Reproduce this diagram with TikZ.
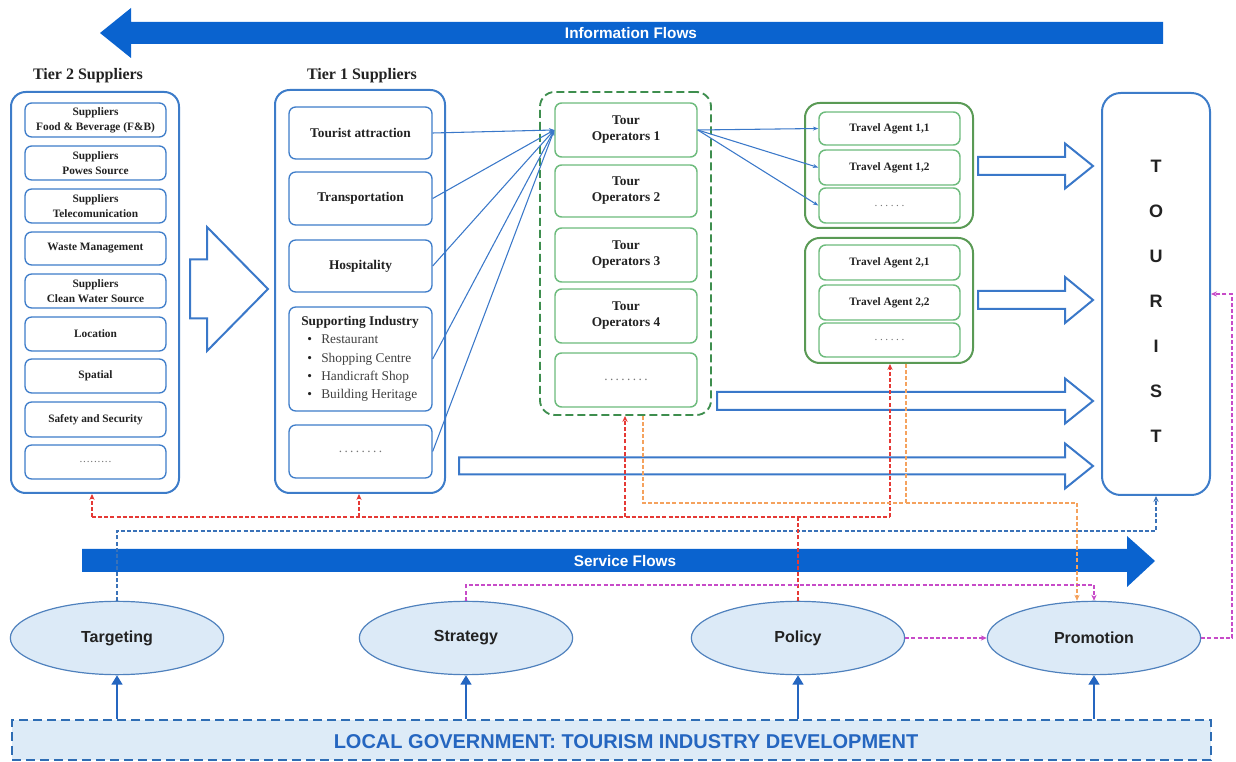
\documentclass[tikz,border=0pt]{standalone}
\usepackage{fontspec}
\setmainfont{Liberation Serif}
\setsansfont{Liberation Sans}
\usetikzlibrary{arrows.meta,calc,shapes.geometric}
\definecolor{flowblue}{HTML}{0A63CF}
\definecolor{boxblue}{HTML}{3D7CC9}
\definecolor{linkblue}{HTML}{3A78C9}
\definecolor{ginner}{HTML}{6DBB7C}
\definecolor{gdash}{HTML}{3E8E4E}
\definecolor{gouter}{HTML}{5A9A55}
\definecolor{ellfill}{HTML}{DCEAF7}
\definecolor{ellborder}{HTML}{4F81BD}
\definecolor{lgfill}{HTML}{DDEBF7}
\definecolor{lgborder}{HTML}{2E6DB4}
\definecolor{lgtext}{HTML}{2566C0}
\definecolor{redd}{HTML}{E53935}
\definecolor{orangd}{HTML}{F5A25D}
\definecolor{magd}{HTML}{C74BC8}
\definecolor{blued}{HTML}{3A72B8}
\definecolor{dotgray}{HTML}{777777}
\definecolor{txt}{HTML}{222222}
\newcommand\spdots[2]{{\normalfont\color{dotgray}\foreach \i in {1,...,#1}{.\hspace{#2}}\hspace{-#2}}}
\newcommand\myblockarrow[6]{%
  \draw[hollow] (#1,{#4-#5}) -- (#2,{#4-#5}) -- (#2,{#4-#6}) -- (#3,#4) -- (#2,{#4+#6}) -- (#2,{#4+#5}) -- (#1,{#4+#5}) -- cycle;}
\begin{document}
\begin{tikzpicture}[x=0.75pt,y=-0.75pt,
  every node/.style={inner sep=0pt, text=txt},
  corners/.style args={#1,#2,#3,#4}{minimum width={(#3-#1)*0.75pt}, minimum height={(#4-#2)*0.75pt},
     at={({(#1+#3)/2},{(#2+#4)/2})}},
  outerbox/.style={draw=boxblue, line width=1.5pt, rounded corners=11pt},
  bbox/.style={draw=boxblue, line width=1pt, rounded corners=5pt, fill=white, align=center,
     font=\bfseries\fontsize{10}{12}\selectfont},
  t2box/.style={bbox, font=\bfseries\fontsize{8.5}{11}\selectfont},
  gbox/.style={draw=ginner, line width=1.1pt, rounded corners=5pt, fill=white, align=center,
     font=\bfseries\fontsize{10}{12}\selectfont},
  tabox/.style={gbox, font=\bfseries\fontsize{8.5}{10}\selectfont},
  godash/.style={draw=gdash, line width=1.4pt, rounded corners=11pt, dash pattern=on 6pt off 3pt},
  gosolid/.style={draw=gouter, line width=1.5pt, rounded corners=11pt},
  ell/.style={ellipse, draw=ellborder, fill=ellfill, line width=0.9pt, minimum width=160pt,
     minimum height=55pt, font=\sffamily\bfseries\fontsize{12}{14}\selectfont},
  hollow/.style={draw=linkblue, line width=1.5pt, fill=white, line join=miter},
  link/.style={draw=linkblue, line width=0.8pt, -{Stealth[length=4pt,width=3pt]}},
  dsh/.style={line width=1.1pt, dash pattern=on 3pt off 1.6pt, -{Stealth[length=4.5pt,width=4pt]}},
  dshnt/.style={line width=1.1pt, dash pattern=on 3pt off 1.6pt},
  upar/.style={draw=lgtext, line width=2.2pt, -{Triangle[length=7pt,width=8pt]}},
  flowtxt/.style={text=white, font=\sffamily\bfseries\fontsize{11.5}{13}\selectfont}
  ]
\useasboundingbox (0,0) rectangle (1236,762);

% ---------- flow arrows ----------
\fill[flowblue] (1163,22) -- (131,22) -- (131,8) -- (100,33) -- (131,58) -- (131,44) -- (1163,44) -- cycle;
\node[flowtxt] (infoflow) at (631,33) {Information Flows};
\fill[flowblue] (82,549) -- (1127,549) -- (1127,536) -- (1155,561) -- (1127,587) -- (1127,572) -- (82,572) -- cycle;
\node[flowtxt] (servflow) at (625,561) {Service Flows};

% ---------- Tier 2 ----------
\node[font=\bfseries\fontsize{12}{14}\selectfont] (t2lab) at (88,76) {Tier 2 Suppliers};
\node[outerbox, corners={11,92,179,493}] (t2) {};
\node[t2box, corners={25,103,166,137}] (s1) {Suppliers\\Food \& Beverage (F\&B)};
\node[t2box, corners={25,146,166,180}] (s2) {Suppliers\\Powes Source};
\node[t2box, corners={25,189,166,223}] (s3) {Suppliers\\Telecomunication};
\node[t2box, corners={25,232,166,265}] (s4) {Waste Management};
\node[t2box, corners={25,274,166,308}] (s5) {Suppliers\\Clean Water Source};
\node[t2box, corners={25,317,166,351}] (s6) {Location};
\node[t2box, corners={25,359,166,393}] (s7) {Spatial};
\node[t2box, corners={25,402,166,437}] (s8) {Safety and Security};
\node[t2box, corners={25,445,166,479}] (s9) {\spdots{9}{0.6pt}};

\myblockarrow{190}{207}{268}{289}{29.5}{62}

% ---------- Tier 1 ----------
\node[font=\bfseries\fontsize{12}{14}\selectfont] (t1lab) at (362,76) {Tier 1 Suppliers};
\node[outerbox, corners={275,90,445,493}] (t1) {};
\node[bbox, corners={289,107,432,159}] (t1a) {Tourist attraction};
\node[bbox, corners={289,172,432,225}] (t1b) {Transportation};
\node[bbox, corners={289,240,432,292}] (t1c) {Hospitality};
\node[bbox, corners={289,307,432,411}] (t1d) {};
\node[align=left, font=\fontsize{10}{13.7}\selectfont] (t1dtext) at (360,359)
  {\textbf{Supporting Industry}\\
   \hspace{0.45em}{\color{txt}\textbullet}\hspace{0.7em}{\color{darkgray}Restaurant}\\
   \hspace{0.45em}{\color{txt}\textbullet}\hspace{0.7em}{\color{darkgray}Shopping Centre}\\
   \hspace{0.45em}{\color{txt}\textbullet}\hspace{0.7em}{\color{darkgray}Handicraft Shop}\\
   \hspace{0.45em}{\color{txt}\textbullet}\hspace{0.7em}{\color{darkgray}Building Heritage}};
\node[bbox, corners={289,425,432,478}] (t1e) {\spdots{8}{1.8pt}};

% ---------- Tour operators ----------
\node[godash, corners={540,92,711,415}] (tog) {};
\node[gbox, corners={555,103,697,157}] (to1) {Tour\\Operators 1};
\node[gbox, corners={555,165,697,217}] (to2) {Tour\\Operators 2};
\node[gbox, corners={555,228,697,282}] (to3) {Tour\\Operators 3};
\node[gbox, corners={555,289,697,343}] (to4) {Tour\\Operators 4};
\node[gbox, corners={555,353,697,407}] (to5) {\spdots{8}{1.8pt}};

% ---------- Travel agents ----------
\node[gosolid, corners={805,103,973,228}] (tag1) {};
\node[tabox, corners={819,112,960,145}] (ta11) {Travel Agent 1,1};
\node[tabox, corners={819,150,960,185}] (ta12) {Travel Agent 1,2};
\node[tabox, corners={819,188,960,223}] (ta13) {\spdots{6}{1.9pt}};
\node[gosolid, corners={805,238,973,363}] (tag2) {};
\node[tabox, corners={819,245,960,280}] (ta21) {Travel Agent 2,1};
\node[tabox, corners={819,285,960,320}] (ta22) {Travel Agent 2,2};
\node[tabox, corners={819,323,960,357}] (ta23) {\spdots{6}{1.9pt}};

% ---------- Tourist ----------
\node[draw=boxblue, line width=1.5pt, rounded corners=14pt, corners={1102,93,1210,495}] (tourist) {};
\node[align=center, font=\sffamily\bfseries\fontsize{13.5}{33.75}\selectfont] (touristtxt) at (1156,301) {T\\O\\U\\R\\I\\S\\T};

% ---------- hollow arrows to tourist ----------
\myblockarrow{978}{1065}{1093}{166}{9}{22.5}
\myblockarrow{978}{1065}{1093}{300}{9}{23}
\myblockarrow{717}{1065}{1093}{401}{9}{22.5}
\myblockarrow{459}{1065}{1093}{466}{8.5}{22.5}

% ---------- links ----------
\foreach \s in {t1a,t1b,t1c,t1d,t1e}{\draw[link] (\s.east) -- (to1.west);}
\foreach \s in {ta11,ta12,ta13}{\draw[link] (to1.east) -- (\s.west);}

% ---------- ellipses & government ----------
\node[ell] (targ) at (117,638) {Targeting};
\node[ell] (strat) at (466,638) {Strategy};
\node[ell] (policy) at (798,638) {Policy};
\node[ell] (promo) at (1094,638) {Promotion};
\node[draw=lgborder, fill=lgfill, line width=1.6pt, dash pattern=on 7pt off 3.5pt, corners={12,720,1211,760}] (lg) {};
\node[text=lgtext, font=\sffamily\bfseries\fontsize{15}{17}\selectfont] (lgtxt) at (626,742) {LOCAL GOVERNMENT: TOURISM INDUSTRY DEVELOPMENT};
\foreach \e in {targ,strat,policy,promo}{\draw[upar] (\e.south |- lg.north) -- (\e.south);}

% ---------- dashed control links ----------
\coordinate (bt) at (1156,531);
\draw[dsh, blued] (targ.north) |- (bt) -- (tourist.south);
\coordinate (rL) at (92,517);
\coordinate (rR) at (890,517);
\coordinate (rA) at (359,517);
\coordinate (rB) at (625,517);
\draw[dshnt, redd] (rL) -- (rR);
\draw[dshnt, redd] (policy.north) -- (policy.north |- rL);
\draw[dsh, redd] (rL) -- (rL |- t2.south);
\draw[dsh, redd] (rA) -- (rA |- t1.south);
\draw[dsh, redd] (rB) -- (rB |- tog.south);
\draw[dsh, redd] (rR) -- (rR |- tag2.south);
\coordinate (o1) at (643,503);
\coordinate (o2) at (906,503);
\coordinate (o3) at (1077,503);
\draw[dsh, orangd] (o1 |- tog.south) -- (o1) -- (o3) -- (o3 |- promo.north);
\draw[dshnt, orangd] (o2 |- tag2.south) -- (o2);
\coordinate (m1) at (1094,585);
\draw[dsh, magd] (strat.north) |- (m1) -- (promo.north);
\draw[dsh, magd] (policy.east) -- (promo.west);
\coordinate (m2) at (1232,294);
\draw[dsh, magd] (promo.east) -| (m2) -- (tourist.east);
\end{tikzpicture}
\end{document}
